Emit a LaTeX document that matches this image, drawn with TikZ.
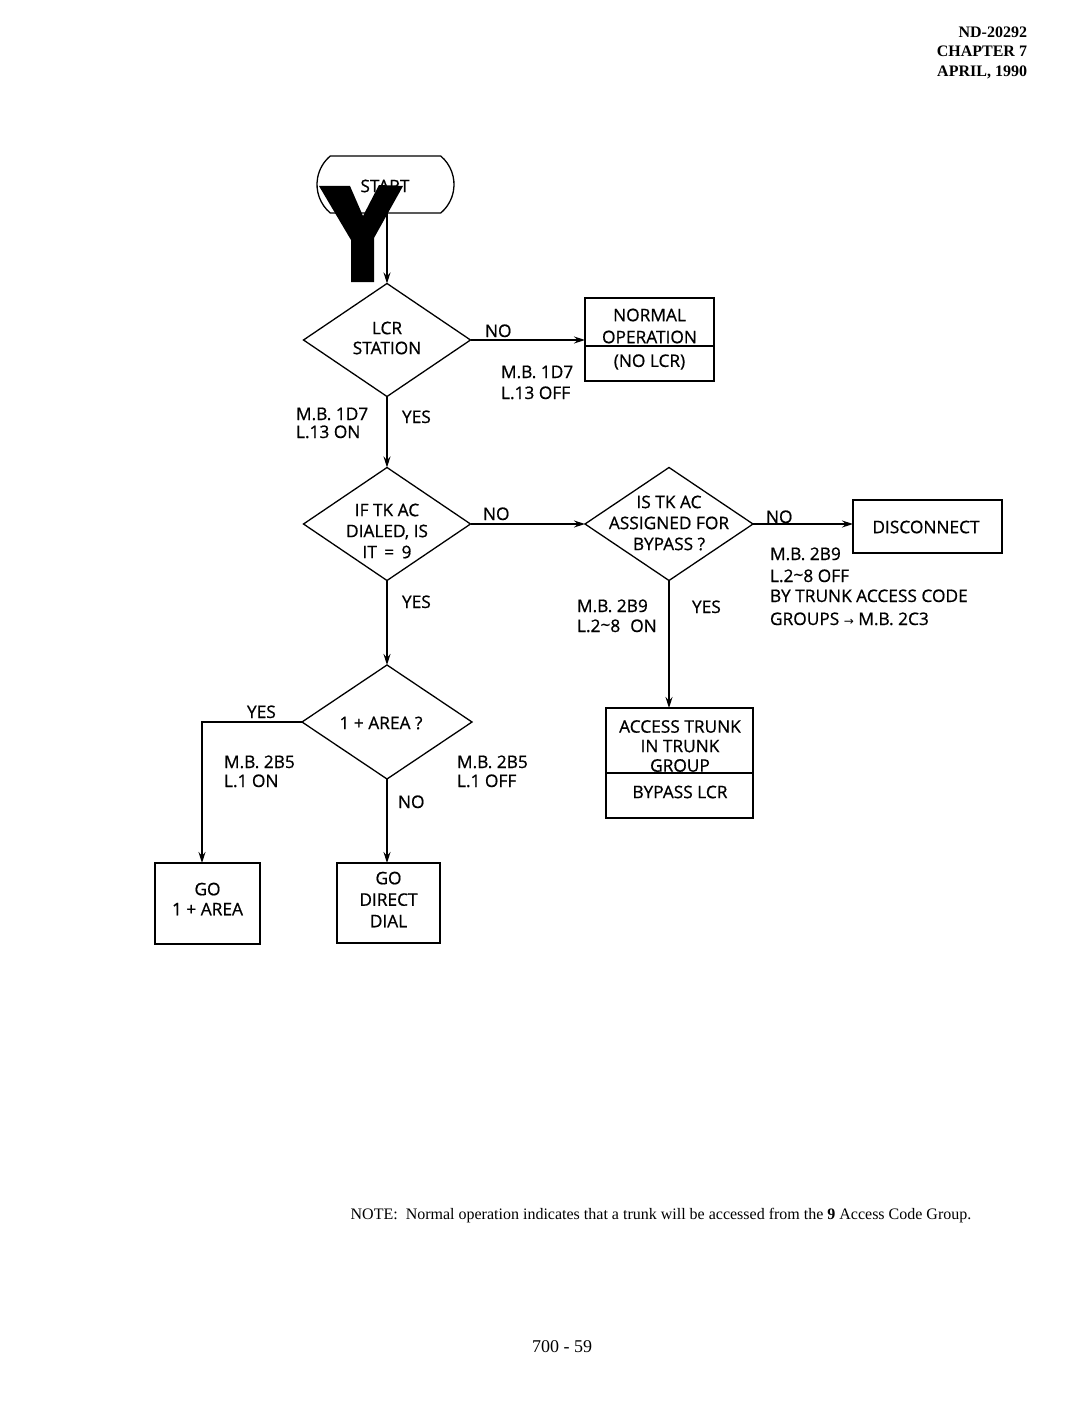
\documentclass[tikz,border=0pt]{standalone}
\usepackage{fontspec}
\setmainfont{Liberation Serif}
\newfontfamily\diag[FakeBold=0.7]{Open Sans}
\newfontfamily\dvs{DejaVu Sans}
\usetikzlibrary{shapes.geometric,shapes.misc,arrows.meta,calc}
\begin{document}
\begin{tikzpicture}[x=1pt,y=-1pt,
  every node/.style={inner sep=0pt,outer sep=0pt},
  lw/.style={line width=1.3pt},
  arr/.style={lw,-{Stealth[length=11pt,width=7pt]}},
  dia/.style={diamond,draw,lw,minimum height=113pt},
  boxx/.style={rectangle,draw,lw},
  txt/.style={font=\diag\fontsize{17.3}{21}\selectfont,align=center},
  lbl/.style={font=\diag\fontsize{17.3}{21}\selectfont,anchor=base west},
  hdr/.style={font=\bfseries\fontsize{16}{19}\selectfont,anchor=base east}
]
\useasboundingbox[fill=white] (0,0) rectangle (1080,1407);

% header
\node[hdr] (h1) at (1027,38) {ND-20292};
\node[hdr] (h2) at (1027,57) {CHAPTER 7};
\node[hdr] (h3) at (1027,77) {APRIL, 1990};

% start
\node[rounded rectangle,rounded rectangle arc length=100,draw,lw,minimum width=137pt,minimum height=57pt] (start) at (385.5,184.5) {};
\node[txt] (starttxt) at (385,186) {START};

% decisions
\node[dia,minimum width=167pt] (d1) at (387,340) {};
\node[txt,font=\diag\fontsize{17.3}{20}\selectfont] (d1t) at (387,338) {LCR\\STATION};
\node[dia,minimum width=167pt] (d2) at (387,524) {};
\node[txt] (d2t) at (387,531) {IF TK AC\\DIALED, IS\\IT\,\ =\ \,9};
\node[dia,minimum width=168pt] (d3) at (669,524) {};
\node[txt] (d3t) at (669,523) {IS TK AC\\ASSIGNED FOR\\BYPASS ?};
\node[dia,minimum width=170pt,minimum height=114pt] (d4) at (387,722) {};
\node[txt] (d4t) at (381,723) {1 + AREA ?};

% boxes
\node[boxx,minimum width=129pt,minimum height=83pt] (nb) at (649.5,339.5) {};
\draw[lw] ($(nb.north west)!0.578!(nb.south west)$) -- ($(nb.north east)!0.578!(nb.south east)$);
\node[txt,font=\diag\fontsize{17.3}{22}\selectfont] (nbt1) at (649.5,326) {NORMAL\\OPERATION};
\node[txt] (nbt2) at (649.5,362) {(NO LCR)};

\node[boxx,minimum width=149pt,minimum height=53pt] (disc) at (927.5,526.5) {};
\node[txt] (disct) at (926,527) {DISCONNECT};

\node[boxx,minimum width=147pt,minimum height=110pt] (acc) at (679.5,763) {};
\draw[lw] ($(acc.north west)!0.59!(acc.south west)$) -- ($(acc.north east)!0.59!(acc.south east)$);
\node[txt,font=\diag\fontsize{17.3}{19.5}\selectfont] (acct1) at (680,746) {ACCESS TRUNK\\IN TRUNK\\GROUP};
\node[txt] (acct2) at (680,792) {BYPASS LCR};

\node[boxx,minimum width=105pt,minimum height=81pt] (go1) at (207.5,903.5) {};
\node[txt,font=\diag\fontsize{17.3}{20}\selectfont] (go1t) at (207.5,899) {GO\\1 + AREA};
\node[boxx,minimum width=103pt,minimum height=80pt] (go2) at (388.5,903) {};
\node[txt,font=\diag\fontsize{17.3}{21.5}\selectfont] (go2t) at (388.5,899.5) {GO\\DIRECT\\DIAL};

% connectors
\draw[arr] (start.south -| d1.north) -- (d1.north);
\draw[arr] (d1.east) -- (d1.east -| nb.west);
\draw[arr] (d1.south) -- (d2.north);
\draw[arr] (d2.east) -- (d3.west);
\draw[arr] (d3.east) -- (d3.east -| disc.west);
\draw[arr] (d3.south) -- (d3.south |- acc.north);
\draw[arr] (d2.south) -- (d4.north);
\coordinate (yc) at ($(go1.north)+(-5.5,0)$);
\draw[arr] (d4.west) -| (yc);
\draw[arr] (d4.south) -- (d4.south |- go2.north);

% labels
\node[lbl] (l1) at (485,337) {NO};
\node[lbl] (l2) at (501,378) {M.B. 1D7};
\node[lbl] (l3) at (501,399) {L.13 OFF};
\node[lbl] (l4) at (296,420) {M.B. 1D7};
\node[lbl] (l5) at (296,438) {L.13 ON};
\node[lbl] (l6) at (402,423) {YES};
\node[lbl] (l7) at (483,520) {NO};
\node[lbl] (l8) at (402,608) {YES};
\node[lbl] (l9) at (766,523) {NO};
\node[lbl] (l10) at (692,613) {YES};
\node[lbl] (l11) at (577,612) {M.B. 2B9};
\node[lbl] (l12) at (577,632) {L.2\raisebox{1pt}{\textasciitilde}8\hspace{10pt}ON};
\node[lbl] (l13) at (770,560) {M.B. 2B9};
\node[lbl] (l14) at (770,582) {L.2\raisebox{1pt}{\textasciitilde}8 OFF};
\node[lbl] (l15) at (770,602) {BY TRUNK ACCESS CODE};
\node[lbl] (l16) at (770,625) {GROUPS {\dvs\fontsize{12}{12}\selectfont →} M.B. 2C3};
\node[lbl] (l17) at (247,718) {YES};
\node[lbl] (l18) at (224,768) {M.B. 2B5};
\node[lbl] (l19) at (224,787) {L.1 ON};
\node[lbl] (l20) at (457,768) {M.B. 2B5};
\node[lbl] (l21) at (457,787) {L.1 OFF};
\node[lbl] (l22) at (398,808) {NO};

% scan artefact Y
\fill[black] (319,186) -- (350,186) -- (363,216) -- (379,185) -- (403,186) -- (374,238) -- (374,282) -- (351,282) -- (351,240) -- cycle;

% note and page number
\node[font=\fontsize{16}{19}\selectfont,anchor=base] (note) at (661,1219) {NOTE:\ \ Normal operation indicates that a trunk will be accessed from the \textbf{9} Access Code Group.};
\node[font=\fontsize{18}{20}\selectfont,anchor=base] (pg) at (562,1352) {700 - 59};
\end{tikzpicture}
\end{document}
